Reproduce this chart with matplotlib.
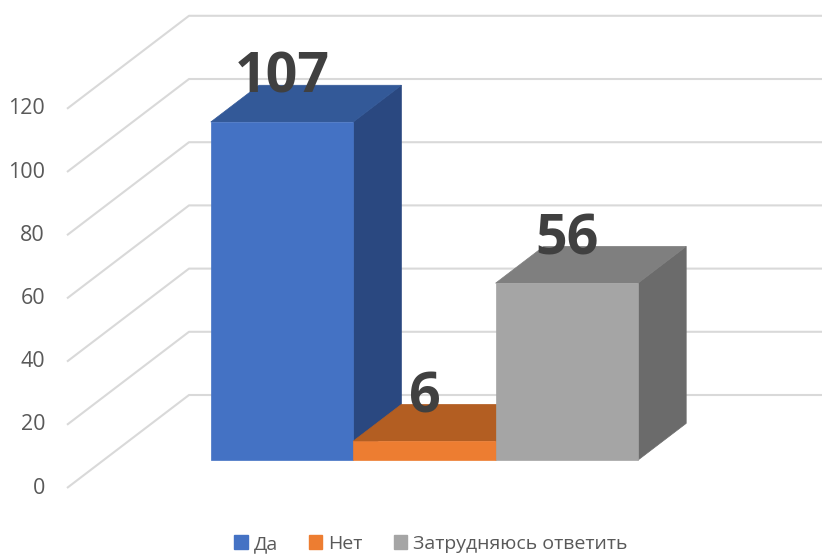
import matplotlib
matplotlib.use("Agg")
import matplotlib.pyplot as plt
from matplotlib.patches import Polygon, Patch

# ---- data ----
categories = ["Да", "Нет", "Затрудняюсь ответить"]
values = [107, 6, 56]
y_ticks = [0, 20, 40, 60, 80, 100, 120]

front_colors = ["#4472C4", "#ED7D31", "#A5A5A5"]
top_colors = ["#335998", "#B35E22", "#7F7F7F"]
side_colors = ["#2A4880", "#9A501D", "#6B6B6B"]

plt.rcParams['font.family'] = ['Open Sans', 'DejaVu Sans']

W, H = 822, 556
fig = plt.figure(figsize=(W / 100, H / 100), dpi=100)
ax = fig.add_axes([0, 0, 1, 1])
ax.axis('off')

PX_X = 142.4      # px per category unit
X0 = 282          # px of category 0
PX_V = 3.16       # px per value unit
V0 = 488          # px of value 0 at front of floor
ax.set_xlim(-X0 / PX_X, (W - X0) / PX_X)
ax.set_ylim(-(H - V0) / PX_V, V0 / PX_V)

DX = 122 / PX_X   # full depth shift in x units
DY = 93 / PX_V    # full depth shift in value units
x_left = (67 - X0) / PX_X
x_right = ax.get_xlim()[1]

grid_c = "#D9D9D9"
for v in y_ticks:
    ax.plot([x_left, x_left + DX, x_right], [v, v + DY, v + DY],
            color=grid_c, lw=1.5, zorder=1, solid_capstyle='butt')
    ax.text((45 - X0) / PX_X, v, str(v), ha='right', va='center',
            fontsize=15.5, color="#595959")

d0 = 0.30
dd = 0.395
bdx, bdy = dd * DX, dd * DY
bw = 1.0
for i, (val, fc, tc, sc) in enumerate(zip(values, front_colors, top_colors, side_colors)):
    x0, x1 = i - bw / 2, i + bw / 2
    bot = d0 * DY
    top = bot + val
    z = 2 + i
    side = Polygon([(x1, bot), (x1 + bdx, bot + bdy), (x1 + bdx, top + bdy), (x1, top)],
                   closed=True, facecolor=sc, edgecolor=sc, lw=0.5, zorder=z)
    topf = Polygon([(x0, top), (x1, top), (x1 + bdx, top + bdy), (x0 + bdx, top + bdy)],
                   closed=True, facecolor=tc, edgecolor=tc, lw=0.5, zorder=z)
    front = Polygon([(x0, bot), (x1, bot), (x1, top), (x0, top)],
                    closed=True, facecolor=fc, edgecolor=fc, lw=0.5, zorder=z)
    for p in (side, topf, front):
        ax.add_patch(p)
    ax.text(i, top + 29 / PX_V, str(val), ha='center', va='baseline',
            fontsize=40, fontweight='bold', color="#404040", zorder=10)

handles = [Patch(facecolor=c, edgecolor=c) for c in front_colors]
fig.legend(handles, categories, loc='center', bbox_to_anchor=(0.524, 1 - 544 / H),
           ncol=3, frameon=False, fontsize=14, labelcolor="#595959",
           handlelength=0.7, handleheight=0.7, handletextpad=0.3, columnspacing=1.6)

fig.savefig("out.png", dpi=100)
